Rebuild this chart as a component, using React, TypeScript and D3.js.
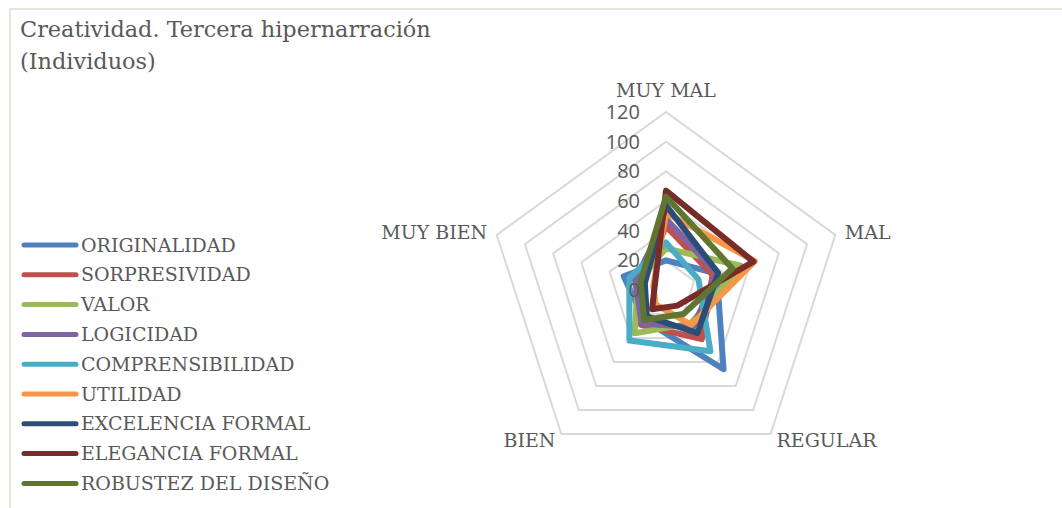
import React from "react";
import * as d3 from "d3";

const categories = ["MUY MAL", "MAL", "REGULAR", "BIEN", "MUY BIEN"];
const ticks = [0, 20, 40, 60, 80, 100, 120];

const seriesNames = [
  "ORIGINALIDAD",
  "SORPRESIVIDAD",
  "VALOR",
  "LOGICIDAD",
  "COMPRENSIBILIDAD",
  "UTILIDAD",
  "EXCELENCIA FORMAL",
  "ELEGANCIA FORMAL",
  "ROBUSTEZ DEL DISEÑO",
];
const seriesColors = [
  "#4F81BD",
  "#C0504D",
  "#9BBB59",
  "#8064A2",
  "#4BACC6",
  "#F79646",
  "#2C4D75",
  "#772C2A",
  "#5F7530",
];
// values per category (MUY MAL, MAL, REGULAR, BIEN, MUY BIEN)
const originalidad = [20, 36, 66, 25, 30];
const sorpresividad = [43, 33, 41, 29, 17];
const valor = [28, 53, 28, 36, 20];
const logicidad = [48, 36, 31, 28, 22];
const comprensibilidad = [32, 23, 51, 42, 26];
const utilidad = [52, 63, 29, 12, 9];
const excelencia = [57, 37, 36, 22, 15];
const elegancia = [67, 62, 13, 16, 8];
const robustez = [63, 47, 20, 25, 18];
const seriesValues = [
  originalidad,
  sorpresividad,
  valor,
  logicidad,
  comprensibilidad,
  utilidad,
  excelencia,
  elegancia,
  robustez,
];

const W = 1062;
const H = 508;
const cx = 666;
const cy = 290;
const R = 178;
const textColor = "#595959";
const serif = "'DejaVu Serif', 'Liberation Serif', serif";
const sans = "'Open Sans', 'Liberation Sans', sans-serif";

export default function App() {
  const r = d3.scaleLinear().domain([0, 120]).range([0, R]);
  const angle = d3
    .scalePoint<number>()
    .domain(d3.range(categories.length + 1))
    .range([0, 2 * Math.PI]);

  const radial = d3
    .lineRadial<number>()
    .angle((_, i) => angle(i) as number)
    .radius((d) => r(d))
    .curve(d3.curveLinearClosed);

  const labelPos = (i: number, extra: number) => {
    const a = angle(i) as number;
    return [cx + Math.sin(a) * (R + extra), cy - Math.cos(a) * (R + extra)];
  };

  return (
    <div style={{ position: "absolute", left: 0, top: 0 }}>
      <svg width={W} height={H} style={{ display: "block", background: "#fff" }}>
        <rect x={10} y={9} width={W + 20} height={H + 20} fill="#fff" stroke="#e8e5d8" strokeWidth={2} />
        <text x={20} y={37} fontFamily={serif} fontSize={22.4} fill={textColor}>
          Creatividad. Tercera hipernarración
        </text>
        <text x={20} y={69} fontFamily={serif} fontSize={22.4} fill={textColor}>
          (Individuos)
        </text>

        <g transform={`translate(${cx},${cy})`}>
          {ticks.slice(1).map((t) => (
            <path
              key={t}
              d={radial(categories.map(() => t)) || ""}
              fill="none"
              stroke="#d9d9d9"
              strokeWidth={2}
            />
          ))}
          {seriesValues.map((vals, i) => (
            <path
              key={seriesNames[i]}
              d={radial(vals) || ""}
              fill="none"
              stroke={seriesColors[i]}
              strokeWidth={6}
              strokeLinejoin="round"
            />
          ))}
          {ticks.map((t) => (
            <text
              key={t}
              x={-26}
              y={-r(t)}
              dy="0.35em"
              textAnchor="end"
              fontFamily={sans}
              fontSize={20}
              fill={textColor}
            >
              {t}
            </text>
          ))}
        </g>

        {categories.map((c, i) => {
          const offs = [22, 10, 10, 10, 10];
          const [x, y] = labelPos(i, offs[i]);
          let anchor = "middle";
          let yy = y;
          if (i === 1) anchor = "start";
          if (i === 4) anchor = "end";
          if (i === 2) {
            anchor = "start";
            yy = y - 2;
          }
          if (i === 3) {
            anchor = "end";
            yy = y - 2;
          }
          return (
            <text
              key={c}
              x={x}
              y={yy}
              dy="0.35em"
              textAnchor={anchor}
              fontFamily={serif}
              fontSize={19}
              fill={textColor}
            >
              {c}
            </text>
          );
        })}

        {seriesNames.map((s, i) => {
          const y = 245 + i * 29.8;
          return (
            <g key={s}>
              <line x1={24} x2={76} y1={y} y2={y} stroke={seriesColors[i]} strokeWidth={5} strokeLinecap="round" />
              <text x={81} y={y} dy="0.35em" fontFamily={serif} fontSize={19} fill={textColor}>
                {s}
              </text>
            </g>
          );
        })}
      </svg>
    </div>
  );
}
